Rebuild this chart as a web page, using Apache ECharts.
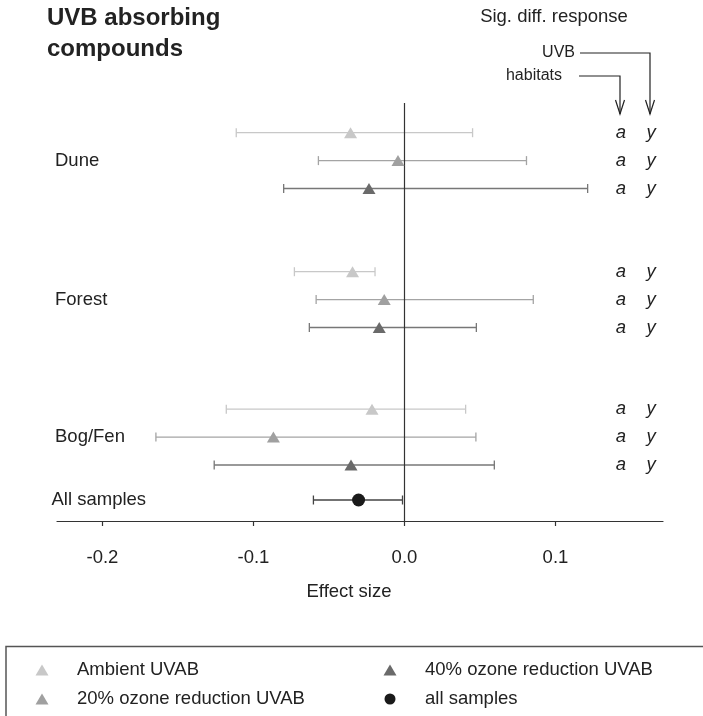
<!DOCTYPE html>
<html><head><meta charset="utf-8">
<script src="https://cdn.jsdelivr.net/npm/echarts@6/dist/echarts.min.js"></script>
<style>html,body{margin:0;padding:0;background:#fff}#c{width:703px;height:716px}</style>
</head><body><div id="c"></div>
<script>
// ---- data ----
const groups = ['Dune', 'Forest', 'Bog/Fen'];
const treatments = ['Ambient UVAB', '20% ozone reduction UVAB', '40% ozone reduction UVAB'];
const ambientMean = [-0.0357, -0.0344, -0.0215];
const ambientLow  = [-0.1114, -0.0729, -0.1180];
const ambientHigh = [ 0.0451, -0.0195,  0.0405];
const oz20Mean = [-0.0043, -0.0134, -0.0868];
const oz20Low  = [-0.0570, -0.0585, -0.1646];
const oz20High = [ 0.0808,  0.0853,  0.0473];
const oz40Mean = [-0.0235, -0.0167, -0.0354];
const oz40Low  = [-0.0800, -0.0630, -0.1260];
const oz40High = [ 0.1213,  0.0476,  0.0595];
const allLabel = 'All samples';
const allName = 'all samples';
const allMean = [-0.0304];
const allLow  = [-0.0603];
const allHigh = [-0.0013];
const sigHabitat = [['a','a','a'], ['a','a','a'], ['a','a','a']];
const sigUVB     = [['y','y','y'], ['y','y','y'], ['y','y','y']];
const xTicks = [-0.2, -0.1, 0.0, 0.1];

// ---- layout (row positions on the hidden vertical scale) ----
const GROUP_Y = [132.7, 271.7, 409.2];
const STEP = 27.9;
const ALL_Y = 500;
const rowY = (g, k) => GROUP_Y[g] + k * STEP;

const FONT = "'Liberation Sans', Arial, Helvetica, sans-serif";
const FS = 18.5;
const TXT = '#222';
const markColors = ['#c8c8c8', '#a0a0a0', '#6a6a6a'];
const barColors = ['#c8c8c8', '#a4a4a4', '#777777'];

const means = [ambientMean, oz20Mean, oz40Mean];
const lows = [ambientLow, oz20Low, oz40Low];
const highs = [ambientHigh, oz20High, oz40High];

function errSeries(low, high, ys, color) {
  return {
    type: 'custom', silent: true, z: 3,
    data: low.map((l, i) => [l, high[i], ys[i]]),
    encode: { x: [0, 1], y: 2 },
    renderItem: function (params, api) {
      const y = api.value(2);
      const p1 = api.coord([api.value(0), y]);
      const p2 = api.coord([api.value(1), y]);
      const st = { stroke: color, lineWidth: 1.3 };
      return { type: 'group', children: [
        { type: 'line', shape: { x1: p1[0], y1: p1[1], x2: p2[0], y2: p2[1] }, style: st },
        { type: 'line', shape: { x1: p1[0], y1: p1[1] - 4.5, x2: p1[0], y2: p1[1] + 4.5 }, style: st },
        { type: 'line', shape: { x1: p2[0], y1: p2[1] - 4.5, x2: p2[0], y2: p2[1] + 4.5 }, style: st }
      ]};
    }
  };
}

const series = [];
treatments.forEach((t, k) => {
  const ys = groups.map((g, gi) => rowY(gi, k));
  series.push(errSeries(lows[k], highs[k], ys, barColors[k]));
});
series.push(errSeries(allLow, allHigh, [ALL_Y], '#444'));
treatments.forEach((t, k) => {
  series.push({
    type: 'scatter', name: t, symbol: 'triangle', symbolSize: [13, 11], z: 5,
    itemStyle: { color: markColors[k], opacity: 1 },
    data: groups.map((g, gi) => [means[k][gi], rowY(gi, k)])
  });
});
series.push({
  type: 'scatter', name: allName, symbol: 'circle', symbolSize: 13, z: 5,
  itemStyle: { color: '#1a1a1a', opacity: 1 },
  data: [[allMean[0], ALL_Y]],
  markLine: {
    silent: true, symbol: 'none', label: { show: false },
    lineStyle: { color: '#333', width: 1.2, type: 'solid' },
    data: [{ xAxis: 0 }]
  }
});
// group labels
const labelRows = groups.map((g, gi) => [0, rowY(gi, 1), g]).concat([[0, ALL_Y, allLabel]]);
series.push({
  type: 'custom', silent: true, z: 6,
  data: labelRows, encode: { y: 1 },
  renderItem: function (params, api) {
    const p = api.coord([0, api.value(1)]);
    return { type: 'text', x: params.dataIndex === 3 ? 51.5 : 55, y: p[1],
      style: { text: labelRows[params.dataIndex][2], font: FS + 'px ' + FONT, fill: TXT, verticalAlign: 'middle', align: 'left' } };
  }
});
// significance letters
const sigRows = [];
groups.forEach((g, gi) => treatments.forEach((t, k) => sigRows.push([0, rowY(gi, k), sigHabitat[gi][k], sigUVB[gi][k]])));
series.push({
  type: 'custom', silent: true, z: 6,
  data: sigRows, encode: { y: 1 },
  renderItem: function (params, api) {
    const p = api.coord([0, api.value(1)]);
    const r = sigRows[params.dataIndex];
    const f = 'italic ' + FS + 'px ' + FONT;
    return { type: 'group', children: [
      { type: 'text', x: 621, y: p[1], style: { text: r[2], font: f, fill: TXT, align: 'center', verticalAlign: 'middle' } },
      { type: 'text', x: 651, y: p[1], style: { text: r[3], font: f, fill: TXT, align: 'center', verticalAlign: 'middle' } }
    ]};
  }
});

const chart = echarts.init(document.getElementById('c'), null, { renderer: 'canvas' });
chart.setOption({
  animation: false,
  backgroundColor: '#fff',
  textStyle: { fontFamily: FONT },
  grid: { left: 57, right: 40, top: 103, bottom: 195, containLabel: false },
  xAxis: {
    type: 'value', min: -0.2301, max: 0.1712,
    splitLine: { show: false },
    axisLine: { show: true, onZero: false, lineStyle: { color: '#333', width: 1.2 } },
    axisTick: { show: true, length: 5, customValues: xTicks, lineStyle: { color: '#333', width: 1.2 } },
    axisLabel: { customValues: xTicks, margin: 27, fontSize: FS, color: TXT, fontFamily: FONT,
      formatter: v => (Math.abs(v) < 1e-9 ? 0 : v).toFixed(1) }
  },
  yAxis: { type: 'value', min: 103, max: 521, inverse: true, show: false },
  legend: [
    { data: [treatments[0], treatments[1]], orient: 'vertical', left: 35.5, top: 660.5, padding: 0, height: 56,
      itemWidth: 13, itemHeight: 11, itemGap: 10, selectedMode: false,
      textStyle: { fontSize: FS, color: TXT, fontFamily: FONT, padding: [0, 0, 0, 23.5] } },
    { data: [treatments[2], allName], orient: 'vertical', left: 383.5, top: 660.5, padding: 0, height: 56,
      itemWidth: 13, itemHeight: 11, itemGap: 10, selectedMode: false,
      textStyle: { fontSize: FS, color: TXT, fontFamily: FONT, padding: [0, 0, 0, 23.5] } }
  ],
  graphic: [
    { type: 'text', x: 47, y: 18.4, style: { text: 'UVB absorbing', font: 'bold 24px ' + FONT, fill: TXT, verticalAlign: 'middle' } },
    { type: 'text', x: 47, y: 49.7, style: { text: 'compounds', font: 'bold 24px ' + FONT, fill: TXT, verticalAlign: 'middle' } },
    { type: 'text', x: 554, y: 17, style: { text: 'Sig. diff. response', font: FS + 'px ' + FONT, fill: TXT, align: 'center', verticalAlign: 'middle' } },
    { type: 'text', x: 575, y: 53, style: { text: 'UVB', font: '16px ' + FONT, fill: TXT, align: 'right', verticalAlign: 'middle' } },
    { type: 'text', x: 562, y: 76, style: { text: 'habitats', font: '16px ' + FONT, fill: TXT, align: 'right', verticalAlign: 'middle' } },
    { type: 'text', x: 349, y: 592, style: { text: 'Effect size', font: FS + 'px ' + FONT, fill: TXT, align: 'center', verticalAlign: 'middle' } },
    { type: 'polyline', shape: { points: [[580, 53], [650, 53], [650, 114]] }, style: { stroke: '#222', lineWidth: 1.2, fill: null } },
    { type: 'polyline', shape: { points: [[579, 76], [620, 76], [620, 114]] }, style: { stroke: '#222', lineWidth: 1.2, fill: null } },
    { type: 'polyline', shape: { points: [[645.5, 100], [650, 114], [654.5, 100]] }, style: { stroke: '#222', lineWidth: 1.2, fill: null } },
    { type: 'polyline', shape: { points: [[615.5, 100], [620, 114], [624.5, 100]] }, style: { stroke: '#222', lineWidth: 1.2, fill: null } },
    { type: 'rect', shape: { x: 6, y: 646.5, width: 760, height: 120 }, style: { fill: null, stroke: '#555', lineWidth: 1.5 } }
  ],
  series: series
});
</script></body></html>
